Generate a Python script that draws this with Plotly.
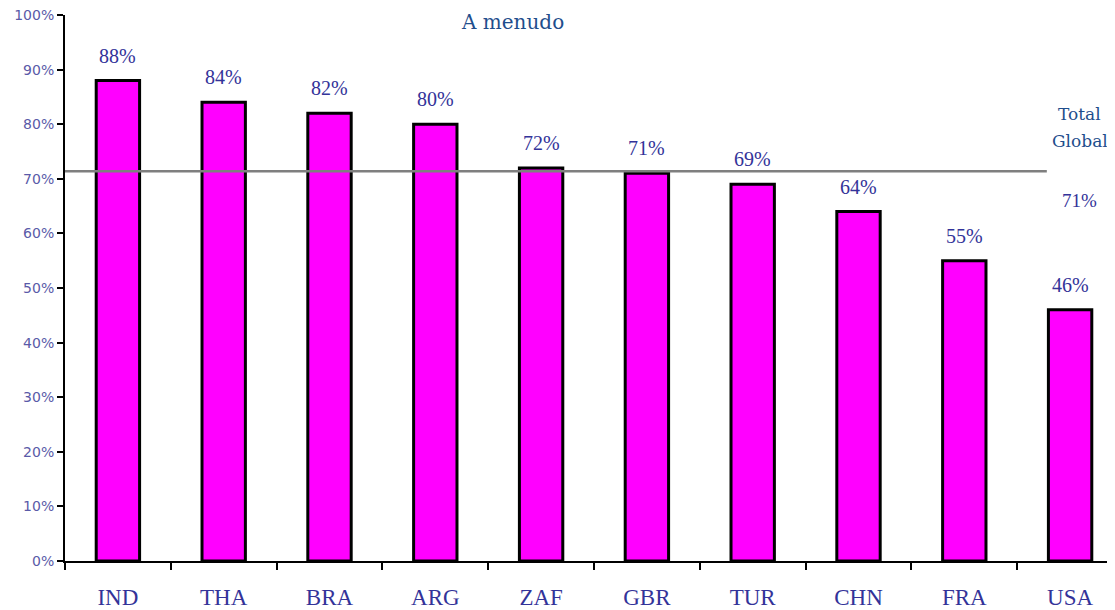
import plotly.graph_objects as go

# ── DATA ──────────────────────────────────────────────────────
countries = ["IND", "THA", "BRA", "ARG", "ZAF", "GBR", "TUR", "CHN", "FRA", "USA"]
values    = [88, 84, 82, 80, 72, 71, 69, 64, 55, 46]
global_total = 71.4
y_ticks   = [0, 10, 20, 30, 40, 50, 60, 70, 80, 90, 100]

NAVY   = "#333399"
BLUE   = "#1f4e8c"
TICK   = "#5a5aa8"
SERIF  = "Liberation Serif, Times New Roman, serif"
SERIF2 = "DejaVu Serif, Cambria, serif"

fig = go.Figure()

fig.add_trace(go.Bar(
    x=countries, y=values,
    width=0.41,
    marker=dict(color="#ff00ff", line=dict(color="black", width=3)),
    hoverinfo="skip",
))

# value labels above each bar
for c, v in zip(countries, values):
    fig.add_annotation(
        x=c, y=v, text=f"{v}%",
        showarrow=False, yanchor="bottom", yshift=12,
        font=dict(family=SERIF, size=20, color=NAVY),
    )

# global average line
fig.add_shape(
    type="line", xref="paper", yref="y",
    x0=0, x1=0.928, y0=global_total, y1=global_total,
    line=dict(color="#7f7f7f", width=2.5),
)

side = dict(xref="paper", yref="y", x=0.959, xanchor="center", yanchor="middle", showarrow=False)
fig.add_annotation(**side, y=81.9, text="Total",
                   font=dict(family=SERIF2, size=17, color=BLUE))
fig.add_annotation(**side, y=76.9, text="Global",
                   font=dict(family=SERIF2, size=17, color=BLUE))
fig.add_annotation(**side, y=66.1, text=f"{round(global_total)}%",
                   font=dict(family=SERIF, size=19, color=NAVY))

fig.add_annotation(
    xref="paper", yref="paper", x=0.4234, y=0.987,
    xanchor="center", yanchor="middle",
    text="A menudo", showarrow=False,
    font=dict(family=SERIF2, size=20, color=BLUE),
)

fig.update_layout(
    width=1115, height=610,
    paper_bgcolor="white", plot_bgcolor="white",
    margin=dict(l=57, r=0, t=7, b=57),
    showlegend=False,
    xaxis=dict(
        automargin=False,
        showline=True, linecolor="black", linewidth=2,
        ticks="outside", tickson="boundaries", ticklen=7, tickwidth=2, tickcolor="black",
        tickfont=dict(family=SERIF, size=23, color=NAVY),
        ticklabelstandoff=14,
    ),
    yaxis=dict(
        automargin=False,
        range=[0, 100], tickvals=y_ticks, ticktext=[f"{t}%" for t in y_ticks],
        showgrid=False, zeroline=False,
        showline=True, linecolor="black", linewidth=2,
        ticks="outside", ticklen=6, tickwidth=2, tickcolor="black",
        ticklabeloverflow="allow",
        tickfont=dict(family="DejaVu Sans, Verdana, sans-serif", size=14, color=TICK),
    ),
)

fig.write_html("out.html")
